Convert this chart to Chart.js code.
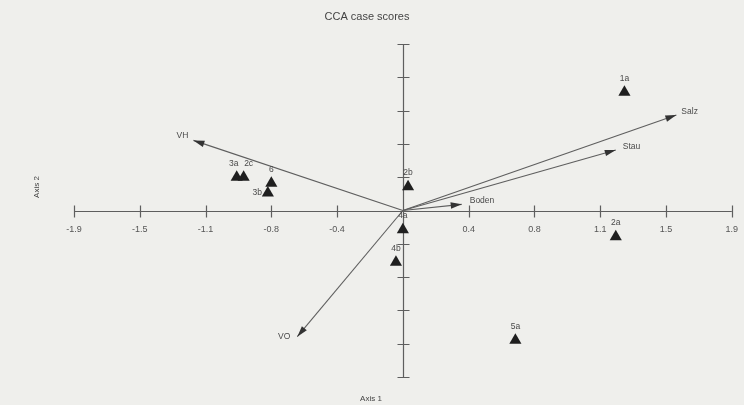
<!DOCTYPE html>
<html>
<head>
<meta charset="utf-8">
<script src="https://cdn.jsdelivr.net/npm/chart.js@4.4.1/dist/chart.umd.min.js"></script>
<style>
  html, body { margin: 0; padding: 0; background: #efefec; }
  #wrap { width: 744px; height: 405px; position: relative; }
</style>
</head>
<body>
<div id="wrap"><canvas id="cca"></canvas></div>
<script>
// site (case) scores
const siteNames = ['1a', '2a', '2b', '2c', '3a', '3b', '4a', '4b', '5a', '6'];
const siteAxis1 = [1.28, 1.23, 0.03, -0.92, -0.96, -0.78, 0.00, -0.04, 0.65, -0.76];
const siteAxis2 = [1.35, -0.30, 0.27, 0.38, 0.38, 0.20, -0.22, -0.59, -1.48, 0.31];

// environmental vectors
const envNames = ['Salz', 'Stau', 'Boden', 'VH', 'VO'];
const envAxis1 = [1.58, 1.23, 0.34, -1.21, -0.61];
const envAxis2 = [1.09, 0.69, 0.07, 0.80, -1.44];

const axisTicks = [-1.9, -1.52, -1.14, -0.76, -0.38, 0, 0.38, 0.76, 1.14, 1.52, 1.9];
const axisTickLabels = ['-1.9', '-1.5', '-1.1', '-0.8', '-0.4', '', '0.4', '0.8', '1.1', '1.5', '1.9'];

const FONT = '"Liberation Sans", Arial, sans-serif';
const INK = '#4a4a4a';
const LINE = '#5e5e5e';

const datasets = [{
  label: 'sites',
  data: siteNames.map((n, i) => ({ x: siteAxis1[i], y: siteAxis2[i] })),
  pointStyle: 'triangle',
  pointRadius: 7,
  pointHoverRadius: 7,
  backgroundColor: '#1f1f1f',
  borderColor: '#1f1f1f',
  borderWidth: 0
}];
envNames.forEach((n, i) => {
  datasets.push({
    label: n,
    data: [{ x: 0, y: 0 }, { x: envAxis1[i], y: envAxis2[i] }],
    showLine: true,
    borderColor: LINE,
    borderWidth: 1.1,
    pointRadius: 0
  });
});

// where the text sits next to a mark
const siteLabelShift = { '3a': [-3, 0], '2c': [5, 0] };
const envLabelPlace = {
  Salz: [5, -3, 'left'], Stau: [7, -3, 'left'], Boden: [8, -4, 'left'],
  VH: [-5, -5, 'right'], VO: [-7, 0, 'right']
};

const overlay = {
  id: 'overlay',
  beforeDatasetsDraw(chart) {
    const { ctx, scales: { x, y } } = chart;
    const x0 = Math.round(x.getPixelForValue(0)) + 0.5;
    const y0 = Math.round(y.getPixelForValue(0)) + 0.5;
    ctx.save();
    ctx.strokeStyle = LINE;
    ctx.lineWidth = 1.2;
    ctx.beginPath();
    ctx.moveTo(x.getPixelForValue(-1.9), y0);
    ctx.lineTo(x.getPixelForValue(1.9), y0);
    ctx.moveTo(x0, y.getPixelForValue(1.9));
    ctx.lineTo(x0, y.getPixelForValue(-1.9));
    axisTicks.forEach(v => {
      const px = Math.round(x.getPixelForValue(v)) + 0.5;
      ctx.moveTo(px, y0 - 6); ctx.lineTo(px, y0 + 6);
      const py = Math.round(y.getPixelForValue(v)) + 0.5;
      ctx.moveTo(x0 - 6, py); ctx.lineTo(x0 + 6, py);
    });
    ctx.stroke();
    ctx.restore();
  },
  afterDatasetsDraw(chart) {
    const { ctx, scales: { x, y } } = chart;
    const ox = x.getPixelForValue(0), oy = y.getPixelForValue(0);
    ctx.save();
    // arrow heads + vector names
    envNames.forEach((n, i) => {
      const tx = x.getPixelForValue(envAxis1[i]);
      const ty = y.getPixelForValue(envAxis2[i]);
      const a = Math.atan2(ty - oy, tx - ox);
      ctx.fillStyle = '#333';
      ctx.beginPath();
      ctx.moveTo(tx, ty);
      ctx.lineTo(tx - 11 * Math.cos(a) + 3.2 * Math.sin(a), ty - 11 * Math.sin(a) - 3.2 * Math.cos(a));
      ctx.lineTo(tx - 11 * Math.cos(a) - 3.2 * Math.sin(a), ty - 11 * Math.sin(a) + 3.2 * Math.cos(a));
      ctx.closePath();
      ctx.fill();
      const p = envLabelPlace[n];
      ctx.fillStyle = INK;
      ctx.font = '8.5px ' + FONT;
      ctx.textAlign = p[2];
      ctx.textBaseline = 'middle';
      ctx.fillText(n, tx + p[0], ty + p[1]);
    });
    // site names
    ctx.font = '8.5px ' + FONT;
    ctx.fillStyle = INK;
    ctx.textBaseline = 'middle';
    siteNames.forEach((n, i) => {
      const px = x.getPixelForValue(siteAxis1[i]);
      const py = y.getPixelForValue(siteAxis2[i]);
      if (n === '3b') {
        ctx.textAlign = 'right';
        ctx.fillText(n, px - 6, py);
      } else {
        const s = siteLabelShift[n] || [0, 0];
        ctx.textAlign = 'center';
        ctx.fillText(n, px + s[0], py - 14 + s[1]);
      }
    });
    // title and axis names
    ctx.fillStyle = '#444';
    ctx.textAlign = 'center';
    ctx.font = '11px ' + FONT;
    ctx.fillText('CCA case scores', 367, 17);
    ctx.font = '8px ' + FONT;
    ctx.fillText('Axis 1', 371, 399);
    ctx.translate(37, 187);
    ctx.rotate(-Math.PI / 2);
    ctx.fillText('Axis 2', 0, 0);
    ctx.restore();
  }
};

new Chart(document.getElementById('cca'), {
  type: 'scatter',
  data: { datasets },
  options: {
    responsive: true,
    maintainAspectRatio: false,
    animation: false,
    layout: { padding: { left: 74, right: 8, top: 44, bottom: 28 } },
    plugins: { legend: { display: false }, tooltip: { enabled: false }, title: { display: false } },
    scales: {
      x: {
        type: 'linear',
        min: -1.9,
        max: 1.9,
        position: { y: 0 },
        afterBuildTicks: s => { s.ticks = axisTicks.map(v => ({ value: v })); },
        grid: { display: false },
        border: { display: false },
        ticks: {
          autoSkip: false,
          maxRotation: 0,
          padding: 6,
          color: '#555',
          font: { size: 9, family: FONT },
          callback: (v, i) => axisTickLabels[i]
        }
      },
      y: {
        type: 'linear',
        min: -1.9,
        max: 1.9,
        position: { x: 0 },
        afterBuildTicks: s => { s.ticks = axisTicks.map(v => ({ value: v })); },
        grid: { display: false },
        border: { display: false },
        ticks: { display: false }
      }
    }
  },
  plugins: [overlay]
});
</script>
</body>
</html>
